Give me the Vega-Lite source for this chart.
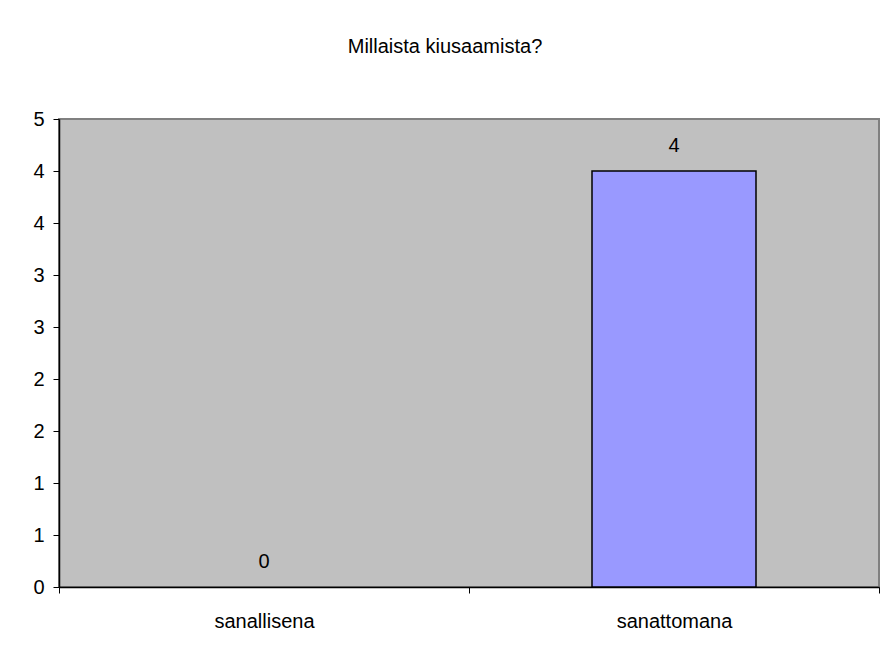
{
  "$schema": "https://vega.github.io/schema/vega-lite/v6.json",
  "width": 820,
  "height": 468,
  "autosize": {"type": "none"},
  "padding": {"left": 59, "top": 119, "right": 5, "bottom": 65},
  "background": "white",
  "title": {
    "text": "Millaista kiusaamista?",
    "fontSize": 20,
    "font": "Liberation Sans",
    "fontWeight": "normal",
    "color": "black",
    "offset": 52,
    "dx": -24
  },
  "config": {
    "view": {"fill": "#c0c0c0", "stroke": "#808080", "strokeWidth": 2},
    "font": "Liberation Sans"
  },
  "data": {
    "values": [
      {"tyyppi": "sanallisena", "lukumaara": 0},
      {"tyyppi": "sanattomana", "lukumaara": 4}
    ]
  },
  "encoding": {
    "x": {
      "field": "tyyppi",
      "type": "nominal",
      "sort": ["sanallisena", "sanattomana"],
      "scale": {"paddingInner": 0, "paddingOuter": 0},
      "axis": {
        "title": null,
        "labelAngle": 0,
        "labelFontSize": 20,
        "labelColor": "black",
        "labelPadding": 18,
        "tickBand": "extent",
        "tickSize": 6,
        "tickColor": "black",
        "domainColor": "black",
        "domainWidth": 1.5
      }
    },
    "y": {
      "field": "lukumaara",
      "type": "quantitative",
      "scale": {"domain": [0, 4.5], "nice": false},
      "axis": {
        "title": null,
        "values": [0, 0.5, 1, 1.5, 2, 2.5, 3, 3.5, 4, 4.5],
        "format": ".0f",
        "grid": false,
        "labelFontSize": 20,
        "labelColor": "black",
        "labelPadding": 9,
        "tickSize": 6,
        "tickColor": "black",
        "domainColor": "black",
        "domainWidth": 1.5
      }
    }
  },
  "layer": [
    {
      "transform": [{"filter": "datum.lukumaara > 0"}],
      "mark": {"type": "bar", "fill": "#9999ff", "stroke": "black", "strokeWidth": 1.5, "width": {"band": 0.4}}
    },
    {
      "mark": {"type": "text", "baseline": "alphabetic", "dy": -19, "fontSize": 20, "color": "black"},
      "encoding": {"text": {"field": "lukumaara", "type": "quantitative"}}
    }
  ]
}
